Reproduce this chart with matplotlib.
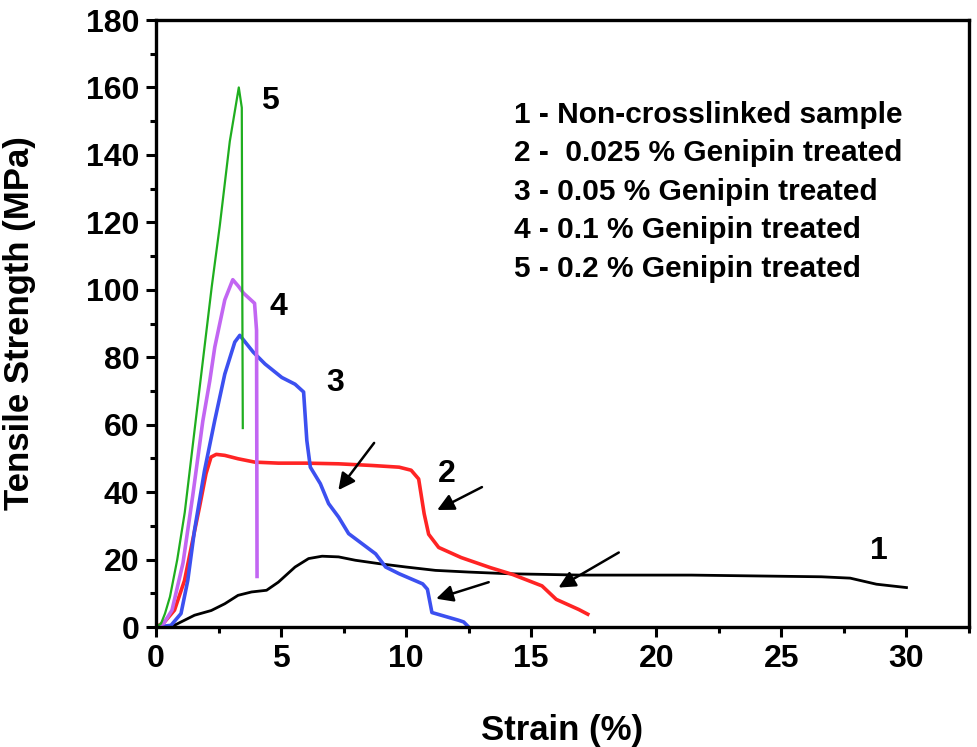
import matplotlib
matplotlib.use('Agg')
import matplotlib.pyplot as plt

plt.rcParams['font.family'] = ['Liberation Sans', 'DejaVu Sans']
plt.rcParams['font.weight'] = 'bold'

# 1 - non-crosslinked (black)
x1 = [0, 0.6, 1.0, 1.54, 2.21, 2.75, 3.28, 3.82, 4.42, 4.89, 5.56, 6.1, 6.64, 7.3, 7.97, 8.91,
      9.99, 11.17, 12.5, 14.1, 17.0, 21.4, 26.6, 27.75, 28.8, 30.0]
y1 = [0, 0, 1.5, 3.5, 4.9, 6.9, 9.4, 10.4, 10.9, 13.3, 17.8, 20.3, 21.0, 20.8, 19.8, 18.8,
      17.8, 16.8, 16.3, 15.8, 15.4, 15.4, 14.9, 14.5, 12.7, 11.7]

# 2 - 0.025 % (red)
x2 = [0, 0.34, 0.74, 1.14, 1.41, 1.74, 2.0, 2.2, 2.41, 2.75, 3.28, 3.95, 4.89, 5.96, 7.3, 8.65,
      9.72, 10.2, 10.5, 10.72, 10.9, 11.3, 12.2, 13.37, 14.25, 15.43, 16.0, 16.3, 16.9, 17.26]
y2 = [0, 1.5, 5, 13.8, 23.7, 35.6, 45.5, 50.4, 51.2, 50.9, 49.9, 48.9, 48.6, 48.6, 48.4, 47.9,
      47.4, 46.5, 43.9, 33.6, 27.5, 23.6, 20.6, 17.6, 15.6, 12.2, 8.2, 7.2, 5.2, 3.8]

# 3 - 0.05 % (blue)
x3 = [0, 0.6, 1.0, 1.27, 1.54, 1.94, 2.35, 2.75, 3.15, 3.35, 3.89, 4.36, 5.03, 5.56, 5.9, 6.03,
      6.17, 6.57, 6.9, 7.3, 7.7, 8.24, 8.78, 9.18, 9.72, 10.66, 10.85, 11.03, 12.1, 12.3, 12.5]
y3 = [0, 0.5, 4, 13.8, 28.7, 46.4, 61.3, 75, 84.5, 86.5, 81.5, 78, 74, 72, 69.7, 55.3,
      47.4, 42.5, 36.6, 32.6, 27.7, 24.7, 21.7, 17.8, 15.8, 12.8, 11.2, 4.3, 2.0, 1.5, 0]

# 4 - 0.1 % (violet)
x4 = [0, 0.3, 0.64, 1.08, 1.47, 1.87, 2.15, 2.35, 2.75, 3.07, 3.3, 3.5, 3.94, 4.02, 4.04]
y4 = [0, 1, 5, 19, 39, 61, 73, 83, 97, 103, 101, 99, 96, 88, 15]

# 5 - 0.2 % (green)
x5 = [0, 0.2, 0.36, 0.56, 0.85, 1.15, 1.6, 2.23, 2.55, 2.95, 3.31, 3.43, 3.45, 3.47]
y5 = [0, 1, 4, 9, 20, 34, 62, 101, 119, 144, 160, 154, 100, 59]

curve_labels = ['1', '2', '3', '4', '5']
label_x = [28.9, 11.63, 7.17, 4.9, 4.54]
label_y = [22.5, 45.5, 72.5, 95, 156]

legend_lines = ['1 - Non-crosslinked sample',
                '2 -  0.025 % Genipin treated',
                '3 - 0.05 % Genipin treated',
                '4 - 0.1 % Genipin treated',
                '5 - 0.2 % Genipin treated']
legend_y = [151.8, 140.5, 129.0, 117.6, 106.3]

# arrows: (tail x, tail y, head x, head y)
arrows = [(8.72, 54.6, 7.29, 40.6),
          (13.03, 41.5, 11.24, 34.7),
          (13.3, 13.3, 11.2, 8.4),
          (18.5, 22.1, 16.09, 11.7)]

fig = plt.figure(figsize=(9.78, 7.47), dpi=100)
ax = fig.add_axes([0.1595, 0.1606, 0.8313, 0.8126])

ax.plot(x1, y1, color='black', lw=2.0)
ax.plot(x2, y2, color='#ff2424', lw=2.6)
ax.plot(x3, y3, color='#3c50f0', lw=2.6)
ax.plot(x4, y4, color='#c266f2', lw=2.6)
ax.plot(x5, y5, color='#1fae1f', lw=1.6)

for t, tx, ty in zip(curve_labels, label_x, label_y):
    ax.text(tx, ty, t, fontsize=23, fontweight='bold', ha='center', va='center')

for t, ly in zip(legend_lines, legend_y):
    ax.text(14.3, ly, t, fontsize=21.5, fontweight='bold', ha='left', va='center')

for tx, ty, hx, hy in arrows:
    ax.annotate('', xy=(hx, hy), xytext=(tx, ty),
                arrowprops=dict(arrowstyle='-|>', color='black', lw=1.8,
                                mutation_scale=25, shrinkA=0, shrinkB=0))

ax.set_xlim(0, 32.4)
ax.set_ylim(0, 180)
ax.set_xticks([0, 5, 10, 15, 20, 25, 30])
ax.set_xticks([2.5, 7.5, 12.5, 17.5, 22.5, 27.5, 32.5], minor=True)
ax.set_yticks(range(0, 181, 20))
ax.set_yticks(range(10, 180, 20), minor=True)

for s in ax.spines.values():
    s.set_linewidth(2.4)
ax.tick_params(which='major', direction='out', length=7, width=2.2, labelsize=23, pad=5,
               top=False, right=False)
ax.tick_params(which='minor', direction='out', length=4, width=2.2, top=False, right=False)
for lab in ax.get_xticklabels() + ax.get_yticklabels():
    lab.set_fontweight('bold')

ax.set_xlabel('Strain (%)', fontsize=25, fontweight='bold', labelpad=29)
ax.set_ylabel('Tensile Strength (MPa)', fontsize=25, fontweight='bold', labelpad=36)

fig.savefig('out.png', dpi=100)
